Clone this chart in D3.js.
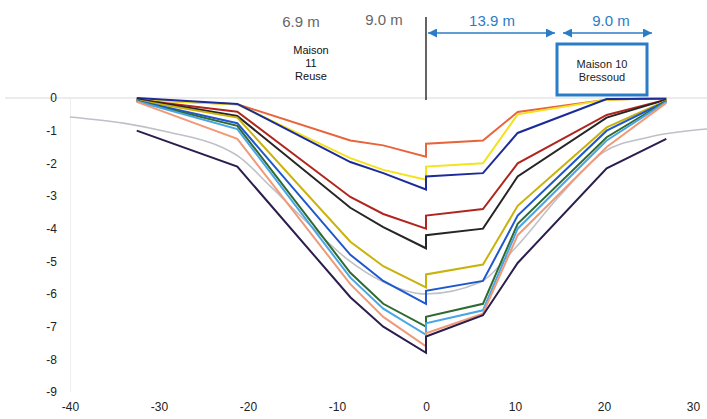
<!DOCTYPE html>
<html>
<head>
<meta charset="utf-8">
<script src="https://cdn.jsdelivr.net/npm/d3@7"></script>
<style>
  body { margin: 0; background: #fff; }
  text { font-family: "Liberation Sans", Arial, sans-serif; }
</style>
</head>
<body>
<div id="container"></div>
<script>
/* CONSTANTS AND GLOBALS */
const width = 707;
const height = 419;

/* DATA */
// distance along the profile (m), shared by all measured series
const xPos = [-32.5, -21.2, -8.5, -4.8, 0, 0, 6.4, 10.3, 20.3, 27];

const sOrange = [-0.05, -0.19, -1.3, -1.45, -1.8, -1.4, -1.3, -0.43, -0.05, 0];
const sYellow = [-0.05, -0.2, -1.84, -2.2, -2.5, -2.1, -2.0, -0.5, -0.05, 0];
const sDarkBlue = [0, -0.18, -1.96, -2.3, -2.8, -2.4, -2.3, -1.07, -0.03, -0.02];
const sRed = [-0.05, -0.42, -3.03, -3.55, -4.0, -3.6, -3.4, -2.0, -0.52, -0.05];
const sBlack = [-0.03, -0.55, -3.36, -3.95, -4.6, -4.2, -4.0, -2.4, -0.6, -0.05];
const sOlive = [-0.07, -0.6, -4.4, -5.15, -5.8, -5.4, -5.1, -3.3, -0.9, -0.08];
const sBlue = [-0.08, -0.77, -4.8, -5.6, -6.3, -5.9, -5.6, -3.6, -1.0, -0.1];
const sGreen = [-0.1, -0.85, -5.35, -6.3, -7.0, -6.7, -6.3, -3.85, -1.2, -0.1];
const sSky = [-0.1, -0.95, -5.5, -6.45, -7.25, -6.9, -6.5, -4.0, -1.3, -0.12];
const sSalmon = [-0.12, -1.25, -5.7, -6.7, -7.6, -7.2, -6.6, -4.2, -1.5, -0.15];
const sNavy = [-1.0, -2.1, -6.1, -7.0, -7.8, -7.3, -6.65, -5.05, -2.15, -1.25];

// smooth theoretical trough (grey)
const greyX = [-40, -34, -29, -23, -21, -17.5, -13, -9, -5, 0, 6, 10, 15, 20, 25, 31.6];
const greyY = [-0.58, -0.77, -1.04, -1.5, -1.8, -2.7, -3.9, -4.9, -5.6, -6.0, -5.65, -4.6, -3.0, -1.65, -1.2, -0.95];

const xTicks = [-40, -30, -20, -10, 0, 10, 20, 30];
const yTicks = [0, -1, -2, -3, -4, -5, -6, -7, -8, -9];

const seriesList = [
  { vals: sOrange, color: "#e8643a" },
  { vals: sYellow, color: "#f4e21a" },
  { vals: sDarkBlue, color: "#1c2b9a" },
  { vals: sRed, color: "#b0261e" },
  { vals: sBlack, color: "#262626" },
  { vals: sOlive, color: "#c9b20c" },
  { vals: sBlue, color: "#1f58cc" },
  { vals: sGreen, color: "#2f6a30" },
  { vals: sSky, color: "#49a6e6" },
  { vals: sSalmon, color: "#f09a78" },
  { vals: sNavy, color: "#2b1d4d" }
];

/* SCALES */
const xScale = d3.scaleLinear().domain([-40, 30]).range([70, 693]);
const yScale = d3.scaleLinear().domain([-9, 0]).range([392, 98]);

/* SVG */
const svg = d3.select("#container")
  .append("svg")
  .attr("width", width)
  .attr("height", height);

// faint zero line and vertical axis
svg.append("line")
  .attr("x1", 5).attr("x2", width)
  .attr("y1", yScale(0)).attr("y2", yScale(0))
  .attr("stroke", "#e6e6e6").attr("stroke-width", 1.5);

const yAxis = d3.axisLeft(yScale).tickValues(yTicks).tickSize(0).tickPadding(13).tickFormat(d => String(d));
const gy = svg.append("g")
  .attr("transform", `translate(${xScale(-40)},0)`)
  .call(yAxis);
gy.select(".domain").attr("stroke", "#eeeeee");
gy.selectAll("text").attr("font-size", 12).attr("fill", "#222");

const xAxis = d3.axisBottom(xScale).tickValues(xTicks).tickSize(0).tickPadding(6).tickFormat(d => String(d));
const gx = svg.append("g")
  .attr("transform", `translate(0,${yScale(-9) + 4})`)
  .call(xAxis);
gx.select(".domain").remove();
gx.selectAll("text").attr("font-size", 12).attr("fill", "#222");

/* LINES */
const line = d3.line()
  .x(d => xScale(d[0]))
  .y(d => yScale(d[1]));

svg.append("path")
  .datum(greyX.map((x, i) => [x, greyY[i]]))
  .attr("d", line.curve(d3.curveMonotoneX))
  .attr("fill", "none")
  .attr("stroke", "#bfc0c8")
  .attr("stroke-width", 1.6);

line.curve(d3.curveLinear);
svg.selectAll("path.series")
  .data(seriesList)
  .join("path")
  .attr("class", "series")
  .attr("d", s => line(xPos.map((x, i) => [x, s.vals[i]])))
  .attr("fill", "none")
  .attr("stroke", s => s.color)
  .attr("stroke-width", 2)
  .attr("stroke-linejoin", "miter");

/* ANNOTATIONS */
const blueAnn = "#2b7cc6";

svg.append("line")
  .attr("x1", xScale(0)).attr("x2", xScale(0))
  .attr("y1", 17).attr("y2", yScale(0) + 2)
  .attr("stroke", "#111").attr("stroke-width", 1.3);

svg.append("text").attr("x", 301).attr("y", 27).attr("text-anchor", "middle")
  .attr("font-size", 15).attr("fill", "#666").text("6.9 m");
svg.append("text").attr("x", 384).attr("y", 25).attr("text-anchor", "middle")
  .attr("font-size", 15).attr("fill", "#666").text("9.0 m");
svg.append("text").attr("x", 492).attr("y", 26).attr("text-anchor", "middle")
  .attr("font-size", 15).attr("fill", blueAnn).text("13.9 m");
svg.append("text").attr("x", 611).attr("y", 26).attr("text-anchor", "middle")
  .attr("font-size", 15).attr("fill", blueAnn).text("9.0 m");

const defs = svg.append("defs");
defs.append("marker")
  .attr("id", "arr")
  .attr("viewBox", "0 0 10 10")
  .attr("refX", 10).attr("refY", 5)
  .attr("markerWidth", 9).attr("markerHeight", 9)
  .attr("markerUnits", "userSpaceOnUse")
  .attr("orient", "auto-start-reverse")
  .append("path")
  .attr("d", "M0,0L10,5L0,10Z")
  .attr("fill", blueAnn);

const arrows = [[xScale(0) + 2, 555], [563, 652]];
svg.selectAll("line.arrow")
  .data(arrows)
  .join("line")
  .attr("class", "arrow")
  .attr("x1", d => d[0]).attr("x2", d => d[1])
  .attr("y1", 33).attr("y2", 33)
  .attr("stroke", blueAnn).attr("stroke-width", 1.3)
  .attr("marker-start", "url(#arr)")
  .attr("marker-end", "url(#arr)");

svg.append("rect")
  .attr("x", 557).attr("y", 44).attr("width", 90).attr("height", 51)
  .attr("fill", "#fff").attr("stroke", blueAnn).attr("stroke-width", 3);
svg.append("text").attr("x", 602).attr("y", 68).attr("text-anchor", "middle")
  .attr("font-size", 11).attr("fill", "#222").text("Maison 10");
svg.append("text").attr("x", 602).attr("y", 81).attr("text-anchor", "middle")
  .attr("font-size", 11).attr("fill", "#222").text("Bressoud");

["Maison", "11", "Reuse"].forEach((t, i) => {
  svg.append("text").attr("x", 311).attr("y", 54 + i * 13).attr("text-anchor", "middle")
    .attr("font-size", 11).attr("fill", "#111").text(t);
});
</script>
</body>
</html>
